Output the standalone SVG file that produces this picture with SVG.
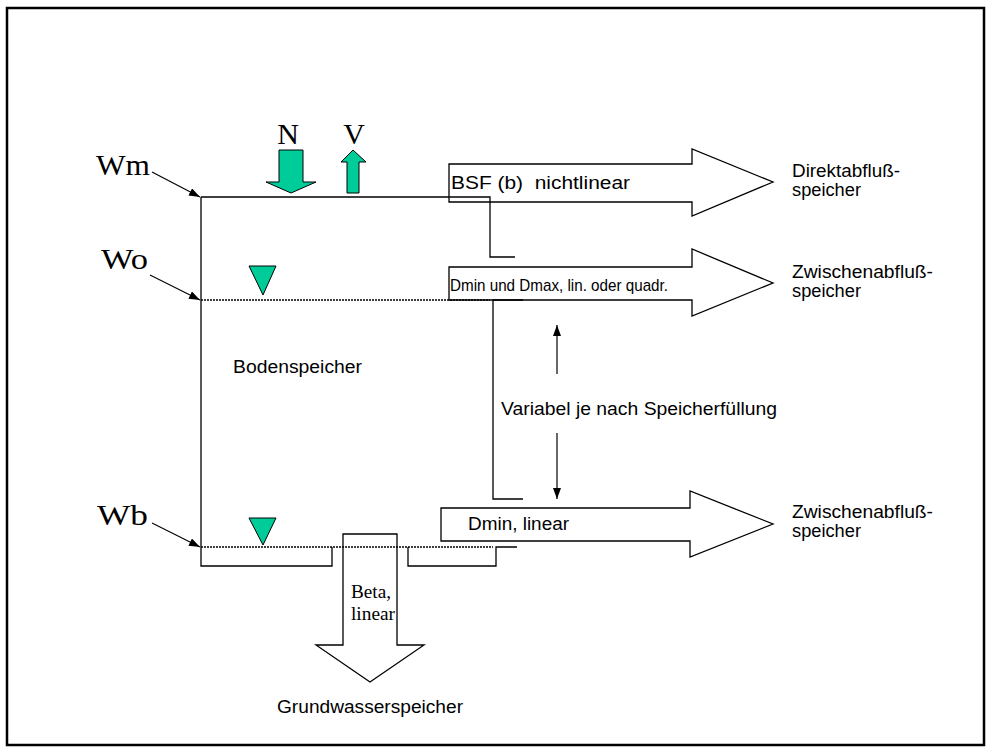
<svg xmlns="http://www.w3.org/2000/svg" width="991" height="751" viewBox="0 0 991 751">
<defs>
<marker id="ah" markerUnits="userSpaceOnUse" markerWidth="12" markerHeight="10" refX="11" refY="4" orient="auto">
<path d="M0,0 L11,4 L0,8 Z" fill="#000"/>
</marker>
<style>
.ln{fill:none;stroke:#000;stroke-width:1.3}
.dot{fill:none;stroke:#000;stroke-width:1.6;stroke-dasharray:2 1}
.blk{fill:#fff;stroke:#000;stroke-width:1.3}
.grn{fill:#00CC99;stroke:#000;stroke-width:1}
.sans{font-family:"Liberation Sans",Arial,sans-serif;font-size:17.5px;fill:#000}
.serif{font-family:"Liberation Serif","Times New Roman",serif;fill:#000}
.big{font-size:30px}
.small{font-size:18.5px}
.pt{fill:none;stroke:#000;stroke-width:1.2}
</style>
</defs>
<rect x="7" y="8" width="977" height="737" fill="#fff" stroke="#000" stroke-width="2.5"/>

<g id="arrow-direkt">
<path class="blk" d="M449,164 H692 V149 L773,182 L692,216 V202 H449 Z"/>
<text class="sans" x="451" y="189" textLength="179" lengthAdjust="spacingAndGlyphs" style="white-space:pre">BSF (b)  nichtlinear</text>
</g>
<g id="arrow-zwischen1">
<path class="blk" d="M449,267 H692 V249 L773,283 L692,316 V300 H449 Z"/>
<text class="sans" x="450" y="291" style="font-size:17px" textLength="218" lengthAdjust="spacingAndGlyphs">Dmin und Dmax, lin. oder quadr.</text>
</g>
<g id="arrow-zwischen2">
<path class="blk" d="M441,508 H690 V491 L773,524 L690,557 V541 H441 Z"/>
<text class="sans" x="468" y="530" textLength="101" lengthAdjust="spacingAndGlyphs">Dmin, linear</text>
</g>
<g id="arrow-grundwasser">
<path class="blk" d="M343,534 H397 V645 H424 L370,682 L316,645 H343 Z"/>
<text class="serif small" x="351" y="598" textLength="40" lengthAdjust="spacingAndGlyphs">Beta,</text>
<text class="serif small" x="351" y="620" textLength="44" lengthAdjust="spacingAndGlyphs">linear</text>
</g>

<g id="bodenspeicher">
<path class="ln" d="M201,197 H490 V257 H515"/>
<path class="ln" d="M523,300 H493 V499 H523"/>
<path class="ln" d="M201,197 V566 H332 V547"/>
<path class="ln" d="M408,547 V566 H496 V547 H517"/>
<path class="dot" d="M201,300 H490"/>
<path class="dot" d="M201,547 H493"/>
<text class="sans" x="233" y="373" textLength="129" lengthAdjust="spacingAndGlyphs">Bodenspeicher</text>
</g>

<g id="N">
<path class="grn" d="M279,150 H303 V182 H316 L291,193 L266,182 H279 Z"/>
<text class="serif big" x="288" y="144" text-anchor="middle">N</text>
</g>
<g id="V">
<path class="grn" d="M347,193 V162 H341 L353,150 L366,162 H359 V193 Z"/>
<text class="serif big" x="354" y="144" text-anchor="middle">V</text>
</g>

<g id="tri-wo"><path class="grn" d="M249,266 H276 L263,295 Z"/></g>
<g id="tri-wb"><path class="grn" d="M249,518 H276 L263,545 Z"/></g>

<g id="labels-w">
<text class="serif big" x="150" y="175" text-anchor="end" textLength="54" lengthAdjust="spacingAndGlyphs">Wm</text>
<text class="serif big" x="148" y="269" text-anchor="end" textLength="47" lengthAdjust="spacingAndGlyphs">Wo</text>
<text class="serif big" x="148" y="525" text-anchor="end" textLength="51" lengthAdjust="spacingAndGlyphs">Wb</text>
</g>

<g id="connectors">
<line class="pt" x1="152" y1="172" x2="200" y2="197" marker-end="url(#ah)"/>
<line class="pt" x1="150" y1="275" x2="200" y2="300" marker-end="url(#ah)"/>
<line class="pt" x1="152" y1="523" x2="200" y2="547" marker-end="url(#ah)"/>
<line class="pt" x1="557" y1="374" x2="557" y2="325" marker-end="url(#ah)"/>
<line class="pt" x1="557" y1="433" x2="557" y2="499" marker-end="url(#ah)"/>
</g>

<g id="text-variabel">
<text class="sans" x="501" y="415" textLength="276" lengthAdjust="spacingAndGlyphs">Variabel je nach Speicherfüllung</text>
</g>

<g id="ziel-direkt">
<text class="sans" x="792" y="177" textLength="108" lengthAdjust="spacingAndGlyphs">Direktabfluß-</text>
<text class="sans" x="792" y="196" textLength="69" lengthAdjust="spacingAndGlyphs">speicher</text>
</g>
<g id="ziel-zwischen1">
<text class="sans" x="792" y="278" textLength="141" lengthAdjust="spacingAndGlyphs">Zwischenabfluß-</text>
<text class="sans" x="792" y="297" textLength="69" lengthAdjust="spacingAndGlyphs">speicher</text>
</g>
<g id="ziel-zwischen2">
<text class="sans" x="792" y="518" textLength="141" lengthAdjust="spacingAndGlyphs">Zwischenabfluß-</text>
<text class="sans" x="792" y="537" textLength="69" lengthAdjust="spacingAndGlyphs">speicher</text>
</g>
<g id="ziel-grundwasser">
<text class="sans" x="277" y="713" textLength="186" lengthAdjust="spacingAndGlyphs">Grundwasserspeicher</text>
</g>
</svg>
